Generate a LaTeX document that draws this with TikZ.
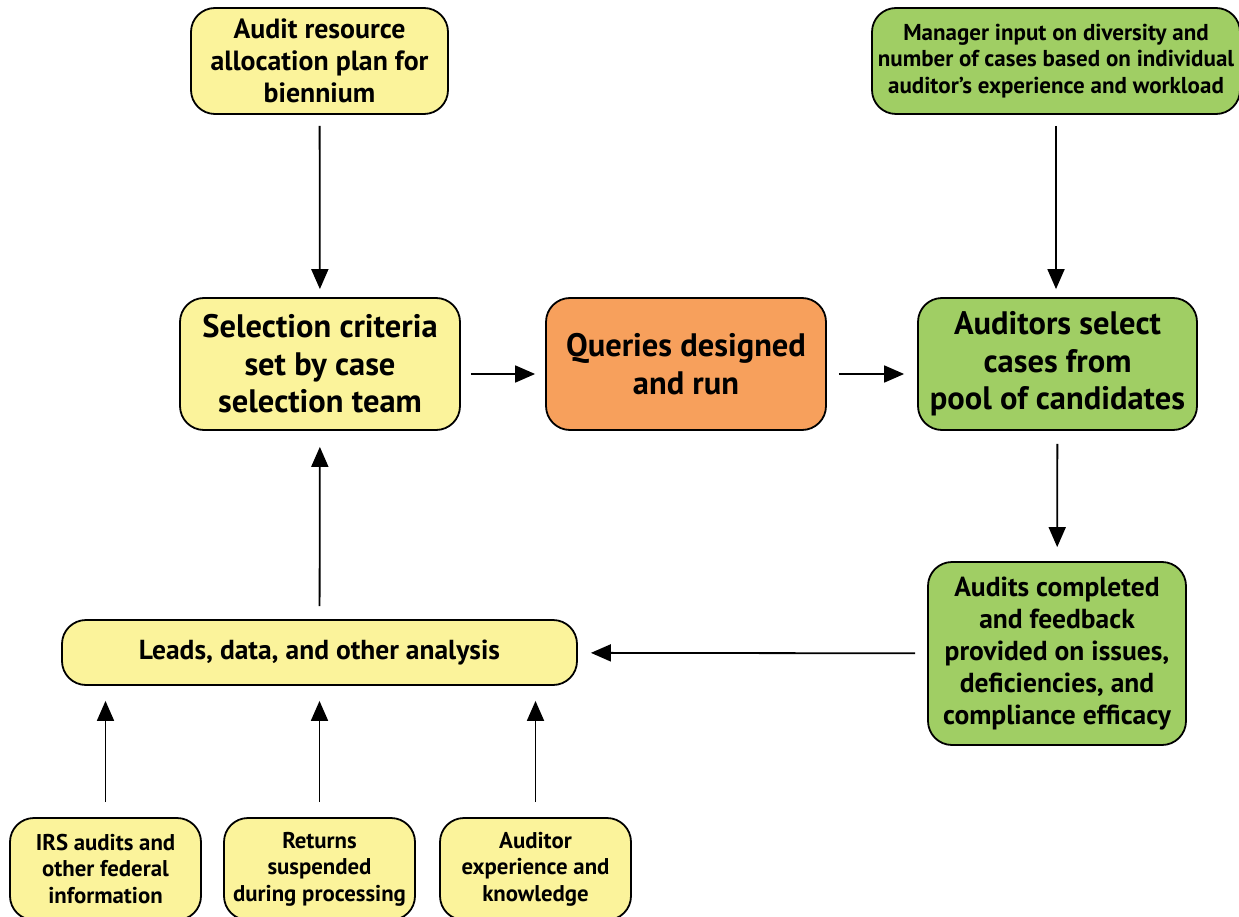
\documentclass[tikz,border=0pt]{standalone}
\usepackage{fontspec}
\setmainfont{PT Sans}
\usetikzlibrary{arrows.meta}
\definecolor{boxyellow}{RGB}{251,243,155}
\definecolor{boxorange}{RGB}{247,160,92}
\definecolor{boxgreen}{RGB}{160,206,100}
\begin{document}
\begin{tikzpicture}[x=1pt,y=-1pt,
  flowbox/.style={draw, line width=1.8pt, rounded corners=24pt, align=center,
    inner sep=0pt, font=\bfseries},
  flowarrow/.style={-{Triangle[length=20pt,width=17pt]}, line width=1.8pt}]
\useasboundingbox (0,0) rectangle (1239,917);
\node[flowbox, fill=boxyellow, minimum width=257pt, minimum height=106pt,
  font=\bfseries\fontsize{27.8}{32}\selectfont] (alloc) at (319.5,61)
{Audit resource\\allocation plan for\\biennium};
\node[flowbox, fill=boxgreen, minimum width=368pt, minimum height=106pt,
  font=\bfseries\fontsize{23}{26.5}\selectfont] (mgr) at (1056,61)
{Manager input on diversity and\\number of cases based on individual\\auditor’s experience and workload};
\node[flowbox, fill=boxyellow, minimum width=280pt, minimum height=132pt,
  font=\bfseries\fontsize{32.5}{37.5}\selectfont] (sel) at (320,364)
{Selection criteria\\set by case\\selection team};
\node[flowbox, fill=boxorange, minimum width=280pt, minimum height=132pt,
  font=\bfseries\fontsize{32.5}{37.5}\selectfont] (query) at (686,364)
{Queries designed\\and run};
\node[flowbox, fill=boxgreen, minimum width=279pt, minimum height=132pt,
  font=\bfseries\fontsize{32.5}{37.5}\selectfont] (aud) at (1057.5,364)
{Auditors select\\cases from\\pool of candidates};
\node[flowbox, fill=boxgreen, minimum width=258pt, minimum height=183pt,
  font=\bfseries\fontsize{27.5}{32}\selectfont] (compl) at (1057,653.5)
{Audits completed\\and feedback\\provided on issues,\\deficiencies, and\\compliance efficacy};
\node[flowbox, fill=boxyellow, minimum width=515pt, minimum height=65pt,
  font=\bfseries\fontsize{27.5}{30}\selectfont] (leads) at (319.5,652.5)
{Leads, data, and other analysis};
\node[flowbox, fill=boxyellow, minimum width=191pt, minimum height=102pt,
  font=\bfseries\fontsize{22.8}{26.5}\selectfont] (irs) at (105.5,869)
{IRS audits and\\other federal\\information};
\node[flowbox, fill=boxyellow, minimum width=191pt, minimum height=102pt,
  font=\bfseries\fontsize{22.8}{26.5}\selectfont] (ret) at (319.5,869)
{Returns\\suspended\\during processing};
\node[flowbox, fill=boxyellow, minimum width=191pt, minimum height=102pt,
  font=\bfseries\fontsize{22.8}{26.5}\selectfont] (audk) at (535.5,869)
{Auditor\\experience and\\knowledge};

\draw[flowarrow, shorten <=11pt, shorten >=8pt] (alloc) -- (sel);
\draw[flowarrow, shorten <=11pt, shorten >=8pt] (mgr.south) -- (mgr.south |- aud.north);
\draw[flowarrow, shorten <=10pt, shorten >=10pt] ([yshift=-10pt]sel.east) -- ([yshift=-10pt]query.west);
\draw[flowarrow, shorten <=12pt, shorten >=13pt] ([yshift=-10pt]query.east) -- ([yshift=-10pt]aud.west);
\draw[flowarrow, shorten <=13pt, shorten >=14pt] (aud) -- (compl);
\draw[flowarrow, shorten <=12pt, shorten >=13pt] (compl) -- (leads);
\draw[flowarrow, shorten <=13pt, shorten >=16pt] (leads) -- (sel);
\draw[flowarrow, shorten <=15pt, shorten >=15pt] (irs) -- (irs |- leads.south);
\draw[flowarrow, shorten <=15pt, shorten >=15pt] (ret) -- (leads);
\draw[flowarrow, shorten <=15pt, shorten >=15pt] (audk) -- (audk |- leads.south);
\end{tikzpicture}
\end{document}
